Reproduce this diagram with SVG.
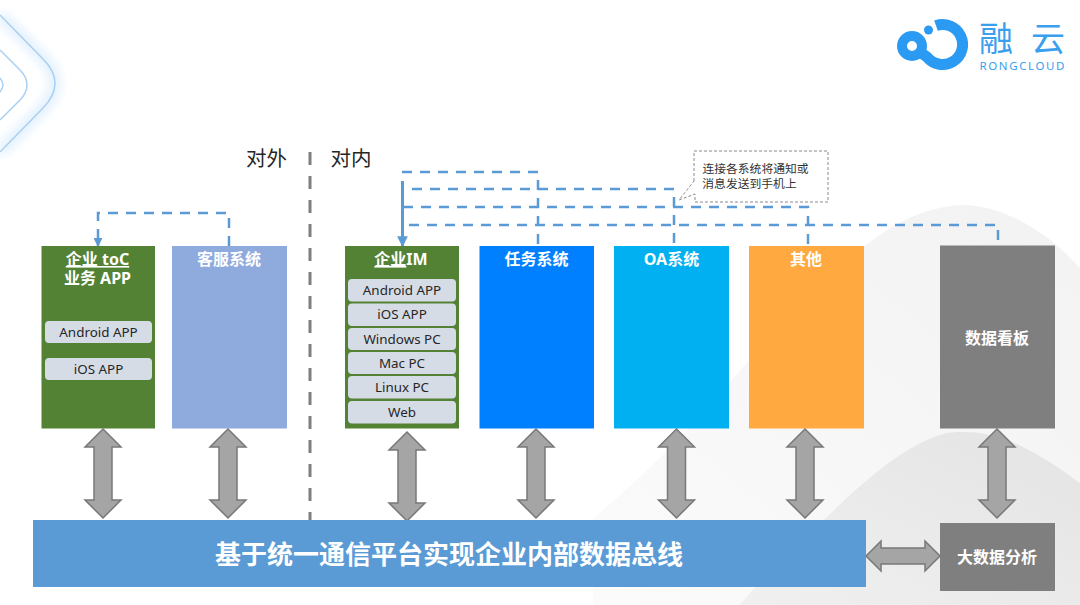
<svg xmlns="http://www.w3.org/2000/svg" width="1080" height="605" viewBox="0 0 1080 605">
<style>
text{font-family:"Noto Sans","Noto Sans CJK SC",sans-serif;text-anchor:middle}
.h{font-size:16px;font-weight:700;fill:#fff}
.p{fill:#d6dce5}
.pt{font-size:13.400px;fill:#262626}
.cn{font-size:20.500px;fill:#262626}
.dash{fill:none;stroke:#5b9bd5;stroke-width:2.500;stroke-dasharray:10 8}
.arr{fill:#a5a5a5;stroke:#787878;stroke-width:1.500;stroke-linejoin:miter}
.chev{fill:none;stroke:#a9cff3;stroke-width:1.500}
</style>
<defs>
<marker id="ah" viewBox="0 0 10 10" refX="9" refY="5" markerWidth="3.600" markerHeight="3.600" orient="auto"><path d="M0 0L10 5L0 10Z" fill="#5b9bd5"/></marker>
<filter id="glow" x="-50%" y="-50%" width="200%" height="200%"><feGaussianBlur stdDeviation="6"/></filter>
<path id="va" d="M0 0L18 18H9V71H18L0 89L-18 71H-9V18H-18Z" class="arr"/>
<linearGradient id="g1" x1="0" y1="1" x2="1" y2="0"><stop offset="0" stop-color="#fbfbfb"/><stop offset="1" stop-color="#f2f2f2"/></linearGradient>
<linearGradient id="g2" x1="0" y1="1" x2="1" y2="0"><stop offset="0" stop-color="#f0f0f0"/><stop offset="1" stop-color="#e4e4e4"/></linearGradient>
</defs>
<rect width="1080" height="605" fill="#fff"/>
<g id="background">
<path d="M593 519C650 470 700 420 743 367C790 310 830 270 877 237C905 217 935 205 967 205C1010 208 1050 235 1080 268V605H593Z" fill="url(#g1)"/>
<path d="M740 605C765 575 800 540 827 517C865 480 905 445 943 434C955 431 975 432 985 434C1020 440 1055 465 1080 483V605Z" fill="url(#g2)"/>
<g>
<path d="M0 15L45 60Q55 72 55 83Q55 95 45 106L0 152" fill="none" stroke="#cfe6fb" stroke-width="7" filter="url(#glow)"/>
<path class="chev" d="M0 15L43 59Q55 71 55 83Q55 96 43 108L0 152"/>
<path class="chev" d="M0 50L20 70Q27 77 27 85Q27 93 20 100L0 120"/>
<path class="chev" d="M0 78Q3 82 3 85Q3 88 0 92"/>
</g>
</g>
<g id="logo">
<circle cx="912" cy="46" r="10" fill="none" stroke="#2b9af3" stroke-width="10"/>
<path d="M936 25.600A20 20 0 1 1 927 57L920 52" fill="none" stroke="#2b9af3" stroke-width="11"/>
<circle cx="928.500" cy="30" r="4.500" fill="#2b9af3"/>
<text x="996" y="51" font-size="34" fill="#3aa0ee">融</text>
<text x="1048" y="51" font-size="34" fill="#3aa0ee">云</text>
<text x="1022" y="70" font-size="11.500" fill="#3aa0ee" textLength="85">RONGCLOUD</text>
</g>
<g id="labels">
<text class="cn" x="266.500" y="166">对外</text>
<text class="cn" x="351" y="166">对内</text>
<line x1="310" y1="152" x2="310" y2="520" stroke="#7f7f7f" stroke-width="3" stroke-dasharray="13 11"/>
</g>
<g id="connectors">
<path class="dash" d="M229 246V213H98V236"/>
<path d="M98 236V246" stroke="#5b9bd5" stroke-width="2.500" marker-end="url(#ah)"/>
<path class="dash" d="M402 172H538V246"/>
<path class="dash" d="M412 189H674V246"/>
<path class="dash" d="M403 207H808V246"/>
<path class="dash" d="M409 225H998V246"/>
<path d="M402.500 181V246" stroke="#5b9bd5" stroke-width="3" marker-end="url(#ah)"/>
</g>
<g id="node-toc">
<rect x="41.500" y="246" width="113.500" height="182.500" fill="#548235"/>
<text class="h" x="97.500" y="265"><tspan text-decoration="underline">企业 toC</tspan></text>
<text class="h" x="97.500" y="284">业务 APP</text>
<rect class="p" x="45" y="321" width="107" height="22" rx="4"/><text class="pt" x="98.500" y="336.500">Android APP</text>
<rect class="p" x="45" y="358" width="107" height="22" rx="4"/><text class="pt" x="98.500" y="373.500">iOS APP</text>
</g>
<g id="node-kefu"><rect x="172" y="246" width="115" height="182.500" fill="#8faadc"/><text class="h" x="229" y="265">客服系统</text></g>
<g id="node-im">
<rect x="345" y="246" width="114" height="182.500" fill="#548235"/>
<text class="h" x="401" y="265"><tspan text-decoration="underline">企业</tspan>IM</text>
<rect class="p" x="348" y="279" width="108" height="22.500" rx="4"/><text class="pt" x="402" y="295">Android APP</text>
<rect class="p" x="348" y="303.500" width="108" height="22.500" rx="4"/><text class="pt" x="402" y="319">iOS APP</text>
<rect class="p" x="348" y="328" width="108" height="22" rx="4"/><text class="pt" x="402" y="343.500">Windows PC</text>
<rect class="p" x="348" y="352" width="108" height="22" rx="4"/><text class="pt" x="402" y="367.500">Mac PC</text>
<rect class="p" x="348" y="376" width="108" height="22.500" rx="4"/><text class="pt" x="402" y="392">Linux PC</text>
<rect class="p" x="348" y="401" width="108" height="22.500" rx="4"/><text class="pt" x="402" y="417">Web</text>
</g>
<g id="node-task"><rect x="479.500" y="246" width="114.500" height="182.500" fill="#0080ff"/><text class="h" x="536.500" y="265">任务系统</text></g>
<g id="node-oa"><rect x="614" y="246" width="115" height="182.500" fill="#00b0f0"/><text class="h" x="671.500" y="265">OA系统</text></g>
<g id="node-other"><rect x="749" y="246" width="115" height="182.500" fill="#ffa940"/><text class="h" x="806" y="265">其他</text></g>
<g id="node-dash"><rect x="940" y="245.500" width="115" height="183" fill="#7f7f7f"/><text class="h" x="997" y="344">数据看板</text></g>
<g id="arrows">
<use href="#va" x="103" y="429"/>
<use href="#va" x="228" y="429"/>
<use href="#va" x="407" y="432"/>
<use href="#va" x="536" y="429"/>
<use href="#va" x="676.500" y="429"/>
<use href="#va" x="805" y="429"/>
<use href="#va" x="997" y="429"/>
<path class="arr" d="M866 556L881 541V548H925V541L940 556L925 571V564H881V571Z"/>
</g>
<g id="node-bus"><rect x="33" y="520" width="833" height="67" fill="#5b9bd5"/><text x="449" y="564" font-size="26" font-weight="700" fill="#fff">基于统一通信平台实现企业内部数据总线</text></g>
<g id="node-bigdata"><rect x="940" y="523" width="115" height="68" fill="#7f7f7f"/><text class="h" x="997" y="563">大数据分析</text></g>
<g id="callout">
<path d="M694 181V151H828V202H695V194L679 200L694 181" fill="none" stroke="#8a8a8a" stroke-width="1" stroke-dasharray="3 2"/>
<text x="755.500" y="173" font-size="11.800" fill="#333">连接各系统将通知或</text>
<text x="749.500" y="188" font-size="11.800" fill="#333">消息发送到手机上</text>
</g>
</svg>
